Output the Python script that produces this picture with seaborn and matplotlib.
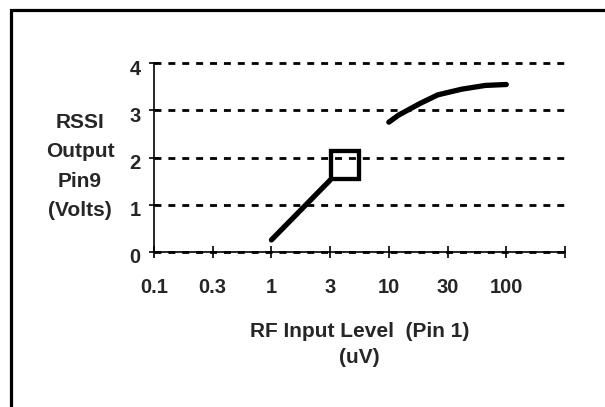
import numpy as np
import matplotlib
matplotlib.use("Agg")
import matplotlib.pyplot as plt
import matplotlib.transforms as mtransforms
from matplotlib.patches import Rectangle
import seaborn as sns

# x axis categories (uV); the last tick has no label
tick_uv = [0.1, 0.3, 1, 3, 10, 30, 100, 300]
tick_labels = ['0.1', '0.3', '1', '3', '10', '30', '100', '']
y_ticks = [0, 1, 2, 3, 4]

# lower range, straight segment
low_uv = [1, 3]
low_volts = [0.25, 1.52]

# single square marker
mark_uv = [4.1]
mark_volts = [1.84]

# upper range curve
high_uv = [10, 12, 18, 25, 40, 65, 100]
high_volts = [2.75, 2.9, 3.15, 3.33, 3.45, 3.53, 3.55]

sns.set_style("white")
plt.rcParams['font.family'] = ['Liberation Sans', 'DejaVu Sans']
plt.rcParams['font.weight'] = 'bold'

TICK_FS = 14.5
LAB_FS = 15

# equal spacing between the labelled categories, log inside each step
log_ticks = np.log10(tick_uv)
pos = np.arange(len(tick_uv), dtype=float)

def fwd(x):
    x = np.clip(np.asarray(x, dtype=float), 1e-9, None)
    return np.interp(np.log10(x), log_ticks, pos)

def inv(p):
    return 10 ** np.interp(np.asarray(p, dtype=float), pos, log_ticks)

fig = plt.figure(figsize=(6.05, 4.07), dpi=100)
W, H = 605, 407
ax = fig.add_axes([154 / W, 1 - 251.7 / H, (565 - 154) / W, (251.7 - 63.3) / H])
ax.set_xscale('function', functions=(fwd, inv))

line_kw = dict(color='black', linewidth=3.8, solid_capstyle='round',
               solid_joinstyle='round', estimator=None, sort=False)
sns.lineplot(x=low_uv, y=low_volts, ax=ax, **line_kw)
sns.lineplot(x=high_uv, y=high_volts, ax=ax, **line_kw)
sns.lineplot(x=mark_uv, y=mark_volts, ax=ax, marker='s', markersize=20,
             markerfacecolor='none', markeredgecolor='black',
             markeredgewidth=3.1, linestyle='none', estimator=None)

ax.set_xlim(tick_uv[0], tick_uv[-1])
ax.set_ylim(0, 4)
ax.set_xticks(tick_uv)
ax.set_xticklabels(tick_labels, fontsize=TICK_FS, fontweight='bold')
ax.set_yticks(y_ticks)
ax.set_yticklabels([str(v) for v in y_ticks], fontsize=TICK_FS, fontweight='bold')
ax.xaxis.set_minor_locator(matplotlib.ticker.NullLocator())

ax.set_axisbelow(True)
ax.yaxis.grid(True, color='black', linestyle=(0, (2.5, 2.5)), linewidth=2.0)
ax.xaxis.grid(False)
for gl in ax.yaxis.get_gridlines():
    gl.set_clip_on(False)

for s in ['top', 'right']:
    ax.spines[s].set_visible(False)
for s in ['left', 'bottom']:
    ax.spines[s].set_color('black')
    ax.spines[s].set_linewidth(1.2)

ax.tick_params(axis='x', direction='inout', length=9, width=1.2,
               color='black', pad=14.5, bottom=True)
ax.tick_params(axis='y', direction='inout', length=7, width=1.2,
               color='black', pad=6, left=True)

# y tick labels sit a little low in the original
off = mtransforms.ScaledTranslation(0, -3 / 72, fig.dpi_scale_trans)
for lab in ax.get_yticklabels():
    lab.set_transform(lab.get_transform() + off)

ax.set_xlabel('RF Input Level  (Pin 1)\n(uV)', fontsize=LAB_FS, fontweight='bold',
              linespacing=1.45, va='top')
ax.xaxis.set_label_coords(0.5, -0.373)

ax.set_ylabel('RSSI\nOutput\nPin9\n(Volts)', fontsize=LAB_FS, fontweight='bold',
              rotation=0, ha='center', va='center', linespacing=1.7)
ax.yaxis.set_label_coords(-0.18, 0.451)

# frame around the chart (cut off at right and bottom)
frame = Rectangle((10.5 / W, -0.2), 2, 1.2 - 9.5 / H, transform=fig.transFigure,
                  fill=False, edgecolor='black', linewidth=2.3, clip_on=False)
fig.patches.append(frame)

fig.savefig('out.png', dpi=100)
